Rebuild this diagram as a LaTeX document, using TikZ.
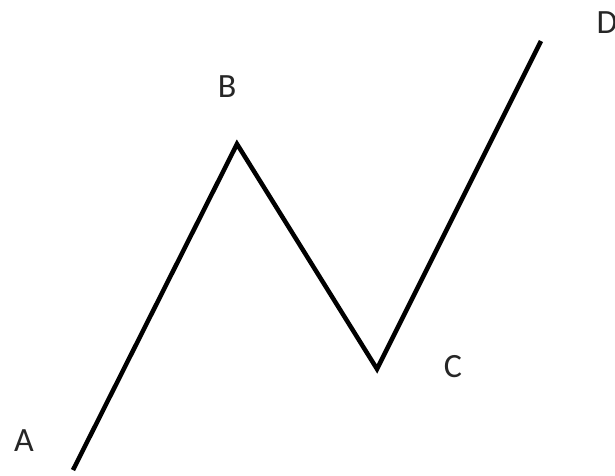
\documentclass[tikz,border=0pt]{standalone}
\usepackage{fontspec}
\setmainfont{Carlito}
\begin{document}
\begin{tikzpicture}[x=1pt,y=-1pt,
  lbl/.style={font=\fontsize{34}{40}\selectfont, text=black!85, inner sep=0pt},
  wave/.style={line width=4.5pt, line join=miter, black}]
\useasboundingbox (0,0) rectangle (615,475);
\coordinate (a) at (73,470);
\coordinate (b) at (237,144);
\coordinate (c) at (377,369);
\coordinate (d) at (541,41);
\draw[wave] (a) -- (b) -- (c) -- (d);
\node[lbl] (la) at (24,441) {A};
\node[lbl] (lb) at (227,87) {B};
\node[lbl] (lc) at (453,367) {C};
\node[lbl] (ld) at (607,23) {D};
\end{tikzpicture}
\end{document}
